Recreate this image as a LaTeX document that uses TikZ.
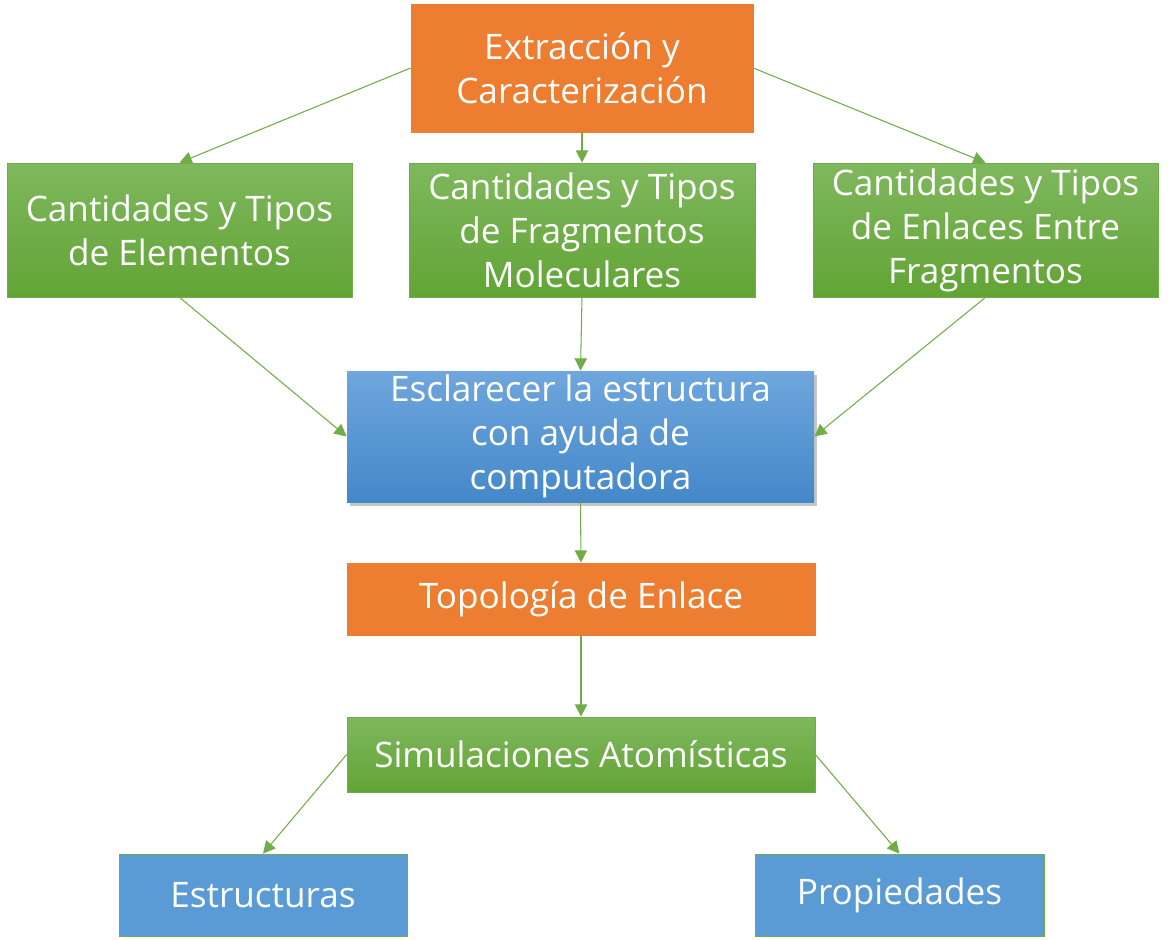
\documentclass[tikz,border=0pt]{standalone}
\usepackage{fontspec}
\setmainfont{Open Sans}
\usetikzlibrary{arrows.meta,shadows}

\definecolor{naranja}{HTML}{ED7D31}
\definecolor{verde}{HTML}{70AD47}
\definecolor{verdeClaro}{HTML}{7FB85D}
\definecolor{verdeOscuro}{HTML}{62A436}
\definecolor{azul}{HTML}{5B9BD5}
\definecolor{azulClaro}{HTML}{6FA6DD}
\definecolor{azulOscuro}{HTML}{4488C9}

\begin{document}
\begin{tikzpicture}
[x=0.02cm,y=-0.02cm,
  boxDecorate/.style={shape=rectangle,inner sep=0pt,align=center,text=white,
    font=\fontsize{20}{25}\selectfont},
  orangeBox/.style={boxDecorate,fill=naranja,draw=naranja},
  greenBox/.style={boxDecorate,draw=verde,top color=verdeClaro,bottom color=verdeOscuro},
  blueBox/.style={boxDecorate,fill=azul,draw=verde},
  shadeBox/.style={boxDecorate,draw=none,top color=azulClaro,bottom color=azulOscuro,
    drop shadow={shadow xshift=1.5pt,shadow yshift=-2pt,opacity=0.45}},
  lineDecorate/.style={-{Triangle[length=7pt,width=7pt]},draw=verde,line width=0.6pt}]
\useasboundingbox (0,0) rectangle (1174,940);
%% boxes
\foreach \nodename/\x/\y/\w/\h/\kind/\txt in {
  ext/582/68/342/128/orangeBox/{Extracción y\\Caracterización},
  elem/179.5/230/345/134/greenBox/{Cantidades y Tipos\\de Elementos},
  frag/582/230/346/134/greenBox/{Cantidades y Tipos\\de Fragmentos\\Moleculares},
  enl/985.5/230/345/134/greenBox/{Cantidades y Tipos\\de Enlaces Entre\\Fragmentos},
  esc/580.5/436.5/467/131/shadeBox/{Esclarecer la estructura\\con ayuda de\\computadora},
  topo/581/599/468/72/orangeBox/{Topología de Enlace},
  sim/581/754.5/468/75/greenBox/{Simulaciones Atomísticas},
  estr/263/895/288/82/blueBox/{Estructuras},
  prop/899.5/895/289/82/blueBox/{Propiedades}}
{
  \node (\nodename) at (\x,\y) [\kind,minimum width=0.02cm*\w,minimum height=0.02cm*\h] {\txt};
}
%% connectors
\path
\foreach \startnode/\endnode in {
  ext.west/elem.north, ext.south/frag.north, ext.east/enl.north,
  elem.south/esc.west, frag.south/esc.north, enl.south/esc.east,
  esc.south/topo.north, topo.south/sim.north,
  sim.west/estr.north, sim.east/prop.north}
{
  (\startnode) edge[lineDecorate] (\endnode)
};
\end{tikzpicture}
\end{document}
